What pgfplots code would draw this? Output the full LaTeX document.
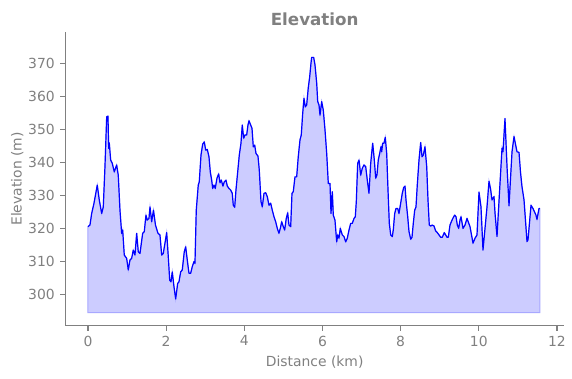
\documentclass[border=0pt]{standalone}
\usepackage{pgfplots}
\pgfplotsset{compat=1.18}
\usepgfplotslibrary{fillbetween}
\usepackage{pgfplotstable}
\usepackage{fontspec}
\setmainfont{DejaVu Sans}
\definecolor{txtgray}{RGB}{128,128,128}
\definecolor{fillc}{RGB}{204,204,255}
\definecolor{edgec}{RGB}{168,168,255}
\pgfplotstableread{
x y
0.000 320.5
0.051 321
0.095 324.5
0.154 327.6
0.238 333.1
0.289 328.6
0.351 324.5
0.392 326.5
0.435 338.7
0.479 353.8
0.512 354
0.530 344.2
0.545 345.9
0.581 340.7
0.622 339.7
0.673 337.1
0.734 339.2
0.775 336.1
0.819 325.5
0.862 318.5
0.888 319.5
0.929 311.9
0.990 310.9
1.031 307.4
1.075 310.4
1.118 310.9
1.159 313.4
1.203 311.9
1.246 318.5
1.287 312.9
1.331 312.4
1.400 318.5
1.441 319
1.484 324
1.517 322.5
1.561 323
1.587 326.5
1.630 322
1.676 325.5
1.727 321
1.791 318.5
1.842 318
1.886 311.9
1.927 312.4
1.970 315.5
2.014 318.7
2.055 311.4
2.091 304.3
2.124 303.8
2.157 306.8
2.201 302.3
2.244 298.6
2.295 303.3
2.329 303.8
2.372 306.8
2.413 307.4
2.464 312.9
2.500 314.4
2.541 310.4
2.584 306.4
2.628 306.4
2.669 308.4
2.712 309.9
2.738 309.4
2.771 325.5
2.822 333.1
2.848 334.1
2.892 342.2
2.935 345.5
2.976 346.2
3.012 343.7
3.053 343.9
3.096 341.7
3.130 337.1
3.165 334.6
3.191 332.1
3.224 333.1
3.257 332.1
3.301 335.2
3.344 336.5
3.378 333.8
3.411 334.6
3.454 332.8
3.488 334.1
3.531 334.6
3.565 332.8
3.608 332.1
3.652 331.6
3.692 330.6
3.718 327
3.754 326.4
3.787 331.6
3.831 337.1
3.872 342.2
3.915 345.8
3.948 351.3
3.984 347.3
4.017 348.3
4.061 348.3
4.094 351.3
4.120 352.6
4.163 351.3
4.197 350.3
4.230 344.7
4.266 345.2
4.299 342.7
4.350 341.9
4.383 337.7
4.427 328.1
4.460 326.5
4.504 330.6
4.547 330.8
4.588 329.6
4.632 327
4.675 327.6
4.716 325.5
4.760 323.5
4.803 322
4.844 320
4.887 318.5
4.921 320
4.957 322
4.998 320.5
5.033 319.5
5.074 323
5.110 324.7
5.143 321
5.187 320.5
5.220 330.6
5.253 331.1
5.297 335.6
5.340 335.6
5.381 341.7
5.425 346.8
5.458 348.3
5.494 354.8
5.527 359.4
5.561 356.8
5.596 357.4
5.637 362.6
5.673 365.9
5.706 370
5.724 371.8
5.775 371.8
5.809 369.5
5.852 364
5.878 358.4
5.911 357.4
5.937 354.3
5.980 358.4
6.021 355.8
6.065 349.8
6.108 342.7
6.149 333.6
6.193 333.6
6.218 324.5
6.252 331.1
6.277 324
6.320 322.5
6.364 315.9
6.390 318
6.423 317
6.456 320
6.507 318
6.551 317.5
6.594 315.9
6.635 317
6.679 319.5
6.722 321.5
6.763 321.5
6.807 323
6.840 323.5
6.866 328.1
6.901 339.7
6.935 340.7
6.978 336.1
7.019 338.2
7.062 339.2
7.106 338.7
7.147 334.6
7.190 330.6
7.234 339.7
7.285 345.8
7.326 340.7
7.362 335.2
7.395 336.2
7.428 340.7
7.464 342.7
7.497 344.7
7.515 343.2
7.541 345.8
7.574 345.8
7.607 347.6
7.643 342.7
7.677 331.6
7.710 321.5
7.746 318
7.787 317.5
7.812 319.5
7.848 324.5
7.881 326
7.925 326
7.958 324.5
8.001 327.6
8.042 330.6
8.078 332.4
8.112 332.8
8.137 328.6
8.181 323.5
8.214 319
8.258 316.7
8.291 317.3
8.324 321.5
8.360 325.5
8.393 326.5
8.426 333.1
8.470 340.7
8.513 346
8.547 341.7
8.580 342.2
8.623 344.7
8.667 338.7
8.700 328.6
8.733 321
8.769 320.7
8.810 321
8.854 320.7
8.897 319.2
8.938 318.7
8.982 318
9.025 317.3
9.066 317.3
9.117 318.7
9.153 318
9.186 317.3
9.220 317.3
9.263 321
9.307 322.3
9.348 323.3
9.383 324
9.417 323.5
9.450 321
9.486 320
9.519 322.5
9.545 323.5
9.596 320
9.647 321
9.698 323
9.775 320.5
9.852 315.5
9.903 317
9.954 318
10.005 331
10.056 326.5
10.107 313.4
10.159 320
10.210 326.5
10.261 334.3
10.300 332
10.338 328.6
10.389 329.6
10.415 324.6
10.466 317.5
10.530 331
10.594 344.3
10.619 343.2
10.670 353.3
10.722 338.7
10.773 326.8
10.811 335
10.850 343.2
10.901 347.8
10.977 343.2
11.029 343
11.067 337
11.105 332.6
11.157 328.6
11.233 316
11.259 316.5
11.336 327
11.387 326
11.463 324
11.489 322.7
11.540 326
11.560 326
}\elev
\begin{document}
\begin{tikzpicture}
\begin{axis}[
  at={(0pt,0pt)}, anchor=south west,
  scale only axis, width=498.7pt, height=293.4pt,
  xmin=-0.58, xmax=12.18, ymin=290.5, ymax=379.4,
  axis lines=left,
  axis line style={-, txtgray, line width=1.1pt},
  tick align=outside, major tick length=4.9pt,
  tick style={txtgray, line width=1.1pt},
  xtick={0,2,...,12}, ytick={300,310,...,370},
  /pgf/number format/assume math mode=true,
  tick label style={font=\fontsize{13.9}{16}\selectfont, text=txtgray},
  xticklabel style={inner sep=0pt, anchor=north, yshift=-4.9pt},
  yticklabel style={inner sep=0pt, anchor=east, xshift=-5.5pt},
  xlabel={Distance (km)}, ylabel={Elevation (m)},
  label style={font=\fontsize{13.9}{16}\selectfont, text=txtgray},
  xlabel style={at={(axis description cs:0.5,-0.1255)}, anchor=center},
  ylabel style={at={(axis description cs:-0.0965,0.5)}, anchor=center},
  title={\bfseries Elevation},
  every axis title shift=0pt,
  title style={font=\fontsize{16.7}{19}\selectfont, text=txtgray, at={(axis description cs:0.5,1)}, anchor=center, yshift=13.5pt},
]
\addplot[name path=elev, draw=none] table {\elev};
\addplot[name path=base, draw=none] coordinates {(0,294.5) (11.56,294.5)};
\addplot[fill=fillc, draw=edgec, line width=1pt] fill between[of=elev and base];
\addplot[blue, line width=1.2pt, line join=round] table {\elev};
\end{axis}
\pgfresetboundingbox
\path[use as bounding box] (-65.3pt,-52.3pt) rectangle (506.7pt,325.7pt);
\end{tikzpicture}
\end{document}
